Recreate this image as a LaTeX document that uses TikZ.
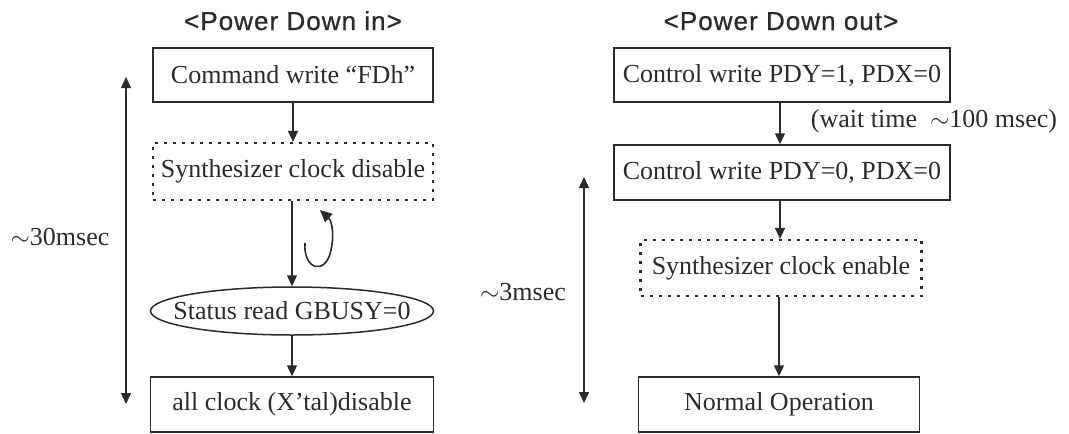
\documentclass[tikz,border=0pt]{standalone}
\usepackage{fontspec}
\setmainfont{Liberation Serif}
\newfontfamily\titlefont[LetterSpace=4,FakeBold=0.8]{Liberation Sans}
\usetikzlibrary{arrows.meta,shapes.geometric}
\definecolor{ink}{HTML}{2B2B2B}
\tikzset{
  box/.style={draw=ink, line width=1.5pt, inner sep=0pt, text=ink,
    font=\fontsize{26}{30}\selectfont},
  dbox/.style={box, dash pattern=on 3pt off 6pt, line width=2.2pt},
  lbl/.style={text=ink, inner sep=0pt, font=\fontsize{26}{30}\selectfont},
  ttl/.style={text=ink, inner sep=0pt, anchor=base, font=\titlefont\fontsize{26}{30}\selectfont},
  flow/.style={draw=ink, line width=1.4pt, -{Triangle[width=10pt,length=11pt]}},
  span/.style={draw=ink, line width=1.4pt, {Triangle[width=10pt,length=11pt]}-{Triangle[width=10pt,length=11pt]}}
}
\begin{document}
\begin{tikzpicture}[x=1pt,y=-1pt]
\useasboundingbox (0,0) rectangle (1069,434);
% ---------- left ----------
\node[ttl] (t1) at (293,30) {<Power Down in>};
\node[box, minimum width=280pt, minimum height=54pt] (b1) at (293,75) {Command write “FDh”};
\node[dbox, minimum width=280pt, minimum height=57pt] (b2) at (293,171.5) {Synthesizer clock disable};
\node[draw=ink, line width=1.5pt, ellipse, minimum width=283pt, minimum height=48pt, inner sep=0pt,
  label={[lbl]center:Status read GBUSY=0}] (e1) at (292,311) {};
\node[box, minimum width=283pt, minimum height=55pt] (b3) at (292,404.5) {all clock (X’tal)disable};
\draw[flow] (b1.south -| 293,0) -- (b2.north -| 293,0);
\draw[flow] (b2.south -| 292,0) -- (e1.north -| 292,0);
\draw[flow] (e1.south) -- (b3.north);
% loop symbol
\draw[draw=ink, line width=1.6pt, -{Triangle[width=11pt,length=12pt]}]
  (305,243) .. controls (303,270) and (326,276) .. (331,250)
  .. controls (335,232) and (331,220) .. (320,210);
% span arrow
\coordinate (l1) at (126,77);
\coordinate (l2) at (126,404);
\draw[span] (l1) -- (l2);
\node[lbl, anchor=base] (m1) at (60,245) {$\sim$30msec};
% ---------- right ----------
\node[ttl] (t2) at (781,30) {<Power Down out>};
\node[box, minimum width=336pt, minimum height=54pt] (r1) at (782,75) {Control write PDY=1, PDX=0};
\node[box, minimum width=336pt, minimum height=55pt] (r2) at (782,172.5) {Control write PDY=0, PDX=0};
\node[dbox, minimum width=281pt, minimum height=56pt] (r3) at (781,268) {Synthesizer clock enable};
\node[box, minimum width=281pt, minimum height=55pt] (r4) at (779,404.5) {Normal Operation};
\draw[flow] (r1.south -| 780,0) -- (r2.north -| 780,0);
\draw[flow] (r2.south -| 780,0) -- (r3.north -| 780,0);
\draw[flow] (r3.south -| 779,0) -- (r4.north -| 779,0);
\node[lbl, anchor=base] (w1) at (934,127) {(wait time \ $\sim$100 msec)};
\coordinate (s1) at (584,177);
\coordinate (s2) at (584,403);
\draw[span] (s1) -- (s2);
\node[lbl, anchor=base] (m2) at (523,300) {$\sim$3msec};
\end{tikzpicture}
\end{document}
